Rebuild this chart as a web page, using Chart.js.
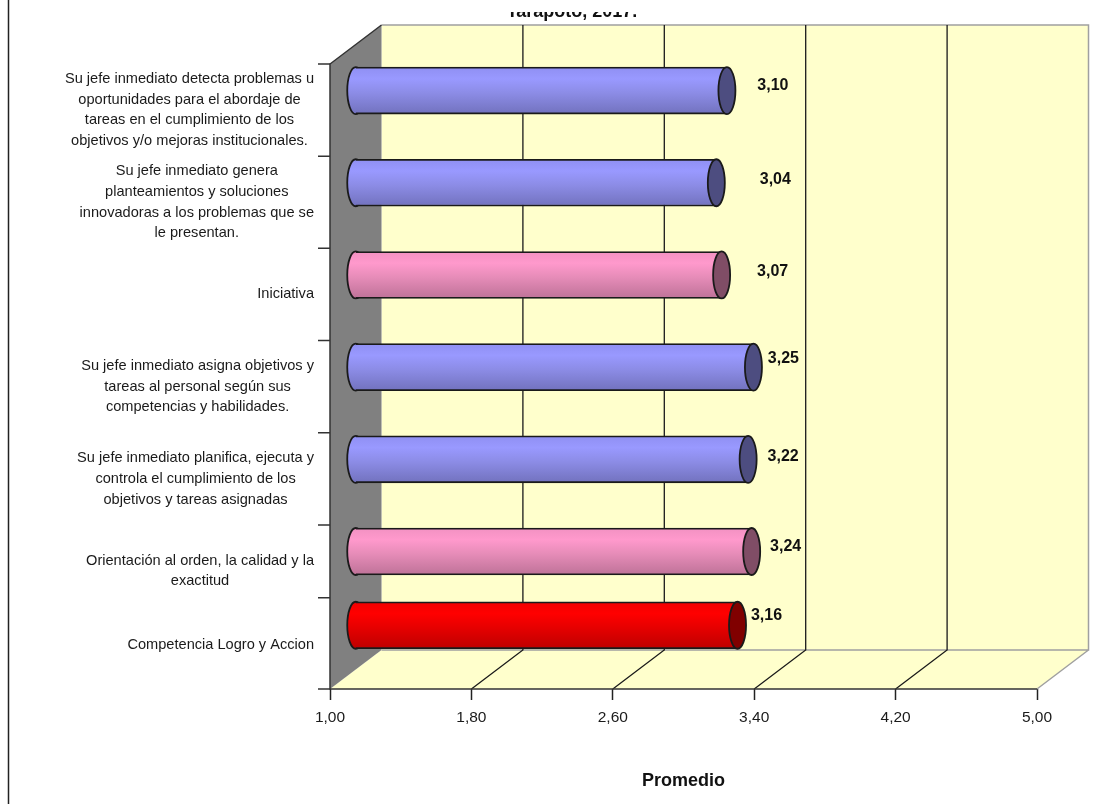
<!DOCTYPE html>
<html lang="es">
<head>
<meta charset="utf-8">
<title>Promedio por competencia</title>
<style>
  html, body { margin: 0; padding: 0; background: #fff; }
  #wrap { position: absolute; left: 0; top: 0; width: 1119px; height: 804px; }
</style>
<script src="https://cdn.jsdelivr.net/npm/chart.js@4/dist/chart.umd.min.js"></script>
</head>
<body>
<div id="wrap"><canvas id="chart" width="1119" height="804"></canvas></div>
<script>
// Row captions, one entry per line of wrapped text
const categories = [
  ["Su jefe inmediato detecta problemas u", "oportunidades para el abordaje de", "tareas en el cumplimiento de los", "objetivos y/o mejoras institucionales."],
  ["Su jefe inmediato genera", "planteamientos y soluciones", "innovadoras a los problemas que se", "le presentan."],
  ["Iniciativa"],
  ["Su jefe inmediato asigna objetivos y", "tareas al personal según sus", "competencias y habilidades."],
  ["Su jefe inmediato planifica, ejecuta y", "controla el cumplimiento de los", "objetivos y tareas asignadas"],
  ["Orientación al orden, la calidad y la", "exactitud"],
  ["Competencia Logro y Accion"]
];
const promedios = [3.10, 3.04, 3.07, 3.25, 3.22, 3.24, 3.16];
const valueTicks = [1.0, 1.8, 2.6, 3.4, 4.2, 5.0];
// Rows sit one unit apart; the last row follows a shorter gap
const rowCenters = [0, 1, 2, 3, 4, 5, 5.8];
const rowEdges = [-0.5, 0.5, 1.5, 2.5, 3.5, 4.5, 5.29, 6.28];

const titleText = "Tarapoto, 2017.";
const axisTitle = "Promedio";

// Colour families: light, mid, dark body tones and the end-cap tone
const families = {
  item:  { top: "#8F8FF2", light: "#9999FF", mid: "#8C8CE6", dark: "#7272BE", cap: "#4D4D80" },
  group: { top: "#F291C2", light: "#FF99CC", mid: "#E68CB8", dark: "#BE7298", cap: "#804D66" },
  total: { top: "#F20000", light: "#FF0000", mid: "#E60000", dark: "#BE0000", cap: "#800000" }
};
const rowFamily = ["item", "item", "group", "item", "item", "group", "total"];

// Small per-row nudges of the value captions, in pixels from the cap centre
const captionDx = [46, 59, 51, 30, 35, 34, 29];
const captionDy = [-5, -3, -3, -9, -3, -5, -10];

// Depth of the 3D box; bars stand halfway into it
const DEPTH_X = 51.5, DEPTH_Y = 39;
const BAR_DX = DEPTH_X / 2, BAR_DY = -DEPTH_Y / 2;
const BAR_H = 47, CAP_RX = 8.5;
const OUTLINE = 1.8;

const FONT = '"Liberation Sans", Arial, sans-serif';

function barGradient(ctx, yMid, fam) {
  const g = ctx.createLinearGradient(0, yMid - BAR_H / 2, 0, yMid + BAR_H / 2);
  g.addColorStop(0, fam.top);
  g.addColorStop(0.25, fam.light);
  g.addColorStop(0.55, fam.mid);
  g.addColorStop(1, fam.dark);
  return g;
}

function capPath(ctx, x, y) {
  ctx.beginPath();
  ctx.ellipse(x, y, CAP_RX, BAR_H / 2, 0, 0, Math.PI * 2);
}

// Walls, floor, grid lines and axis furniture of the 3D box
const boxPlugin = {
  id: "box",
  beforeDatasetsDraw(chart) {
    const { ctx, chartArea: a, scales: { x, y } } = chart;
    ctx.save();

    // Back wall
    ctx.fillStyle = "#FFFFCC";
    ctx.fillRect(a.left + DEPTH_X, a.top - DEPTH_Y, a.right - a.left, a.bottom - a.top);

    // Floor
    ctx.beginPath();
    ctx.moveTo(a.left, a.bottom);
    ctx.lineTo(a.left + DEPTH_X, a.bottom - DEPTH_Y);
    ctx.lineTo(a.right + DEPTH_X, a.bottom - DEPTH_Y);
    ctx.lineTo(a.right, a.bottom);
    ctx.closePath();
    ctx.fill();

    // Side wall
    ctx.fillStyle = "#808080";
    ctx.beginPath();
    ctx.moveTo(a.left, a.top);
    ctx.lineTo(a.left + DEPTH_X, a.top - DEPTH_Y);
    ctx.lineTo(a.left + DEPTH_X, a.bottom - DEPTH_Y);
    ctx.lineTo(a.left, a.bottom);
    ctx.closePath();
    ctx.fill();

    // Light outline of the box
    ctx.strokeStyle = "#A0A0A0";
    ctx.lineWidth = 1.5;
    ctx.beginPath();
    ctx.moveTo(a.left + DEPTH_X, a.bottom - DEPTH_Y);
    ctx.lineTo(a.right + DEPTH_X, a.bottom - DEPTH_Y);
    ctx.lineTo(a.right + DEPTH_X, a.top - DEPTH_Y);
    ctx.lineTo(a.left + DEPTH_X, a.top - DEPTH_Y);
    ctx.moveTo(a.right + DEPTH_X, a.bottom - DEPTH_Y);
    ctx.lineTo(a.right, a.bottom);
    ctx.stroke();

    // Grid lines on the back wall and across the floor
    ctx.strokeStyle = "#1A1A1A";
    ctx.lineWidth = 1.3;
    ctx.beginPath();
    valueTicks.slice(1, -1).forEach(v => {
      const px = x.getPixelForValue(v);
      ctx.moveTo(px, a.bottom);
      ctx.lineTo(px + DEPTH_X, a.bottom - DEPTH_Y);
      ctx.lineTo(px + DEPTH_X, a.top - DEPTH_Y);
    });
    ctx.stroke();

    // Dark edges in front, with the slanted top corner
    ctx.strokeStyle = "#333333";
    ctx.lineWidth = 1.5;
    ctx.beginPath();
    ctx.moveTo(a.left + DEPTH_X, a.top - DEPTH_Y);
    ctx.lineTo(a.left, a.top);
    ctx.lineTo(a.left, a.bottom);
    ctx.lineTo(a.right, a.bottom);
    ctx.stroke();

    // Tick marks between rows
    ctx.beginPath();
    rowEdges.forEach(v => {
      const py = y.getPixelForValue(v);
      ctx.moveTo(a.left - 12, py);
      ctx.lineTo(a.left, py);
    });
    ctx.stroke();

    // Row captions: each block is centred on itself and ends at the same right edge
    ctx.fillStyle = "#1A1A1A";
    ctx.font = "14.6px " + FONT;
    ctx.textAlign = "center";
    ctx.textBaseline = "middle";
    categories.forEach((lines, i) => {
      const py = y.getPixelForValue(rowCenters[i]);
      const w = Math.max(...lines.map(t => ctx.measureText(t).width));
      const cx = a.left - 16 - w / 2;
      lines.forEach((t, k) => {
        ctx.fillText(t, cx, py + (k - (lines.length - 1) / 2) * 20.7);
      });
    });

    // Heading, cut off by the upper edge of the frame
    ctx.save();
    ctx.beginPath();
    ctx.rect(0, 12, chart.width, 40);
    ctx.clip();
    ctx.font = "bold 18px " + FONT;
    ctx.textBaseline = "alphabetic";
    ctx.fillStyle = "#111";
    ctx.fillText(titleText, 572, 17);
    ctx.restore();

    // Frame rule at the left of the page
    ctx.strokeStyle = "#222";
    ctx.lineWidth = 1.5;
    ctx.beginPath();
    ctx.moveTo(8.5, 0);
    ctx.lineTo(8.5, chart.height);
    ctx.stroke();

    ctx.restore();

    // Bars are drawn shifted into the box; left rounded ends go underneath them
    const meta = chart.getDatasetMeta(0);
    ctx.save();
    ctx.translate(BAR_DX, BAR_DY);
    meta.data.forEach((bar, i) => {
      const fam = families[rowFamily[i]];
      ctx.fillStyle = barGradient(ctx, bar.y, fam);
      ctx.strokeStyle = "#1A1A1A";
      ctx.lineWidth = OUTLINE;
      capPath(ctx, bar.base, bar.y);
      ctx.fill();
      ctx.stroke();
    });
  },
  afterDatasetsDraw(chart) {
    const { ctx } = chart;
    const meta = chart.getDatasetMeta(0);
    // Front caps at the value end of each bar, still in the shifted frame
    meta.data.forEach((bar, i) => {
      ctx.fillStyle = families[rowFamily[i]].cap;
      ctx.strokeStyle = "#1A1A1A";
      ctx.lineWidth = OUTLINE;
      capPath(ctx, bar.x, bar.y);
      ctx.fill();
      ctx.stroke();
    });
    ctx.restore();

    // Value captions with a decimal comma
    ctx.save();
    ctx.font = "bold 16px " + FONT;
    ctx.fillStyle = "#111";
    ctx.textAlign = "center";
    ctx.textBaseline = "middle";
    meta.data.forEach((bar, i) => {
      const text = promedios[i].toFixed(2).replace(".", ",");
      ctx.fillText(text, bar.x + BAR_DX + captionDx[i], bar.y + BAR_DY + captionDy[i]);
    });
    ctx.restore();
  }
};

new Chart(document.getElementById("chart"), {
  type: "bar",
  data: {
    datasets: [{
      // Each bar runs from the axis minimum up to its value
      data: promedios.map((v, i) => ({ x: [valueTicks[0], v], y: rowCenters[i] })),
      barThickness: BAR_H,
      clip: false,
      borderColor: "#1A1A1A",
      borderWidth: { top: OUTLINE, bottom: OUTLINE, left: 0, right: 0 },
      borderSkipped: false,
      backgroundColor: c => {
        const fallback = families.item.light;
        if (c.dataIndex === undefined) return fallback;
        const py = c.chart.scales.y.getPixelForValue(rowCenters[c.dataIndex]);
        // The scale has no pixel range until the first layout pass has run
        if (!Number.isFinite(py)) return fallback;
        return barGradient(c.chart.ctx, py, families[rowFamily[c.dataIndex]]);
      }
    }]
  },
  plugins: [boxPlugin],
  options: {
    indexAxis: "y",
    responsive: false,
    animation: false,
    events: [],
    layout: { padding: { left: 0, top: 64, right: 82, bottom: 0 } },
    plugins: { legend: { display: false }, tooltip: { enabled: false }, title: { display: false } },
    scales: {
      x: {
        type: "linear",
        position: "bottom",
        min: valueTicks[0],
        max: valueTicks[valueTicks.length - 1],
        beginAtZero: false,
        afterBuildTicks: s => { s.ticks = valueTicks.map(value => ({ value })); },
        afterFit: s => { s.height = 115; },
        grid: { drawOnChartArea: false, drawTicks: true, tickLength: 11, tickColor: "#222", tickWidth: 1.5 },
        border: { display: false },
        ticks: {
          autoSkip: false,
          maxRotation: 0,
          padding: 8,
          color: "#1A1A1A",
          font: { family: FONT, size: 15.5 },
          callback: v => v.toFixed(2).replace(".", ",")
        },
        title: {
          display: true,
          text: axisTitle,
          color: "#111",
          font: { family: FONT, size: 18, weight: "bold" },
          padding: { top: 29, bottom: 12 }
        }
      },
      y: {
        type: "linear",
        reverse: true,
        offset: false,
        min: rowEdges[0],
        max: rowEdges[rowEdges.length - 1],
        afterFit: s => { s.width = 330; },
        grid: { display: false, offset: false },
        border: { display: false },
        ticks: { display: false }
      }
    }
  }
});
</script>
</body>
</html>
